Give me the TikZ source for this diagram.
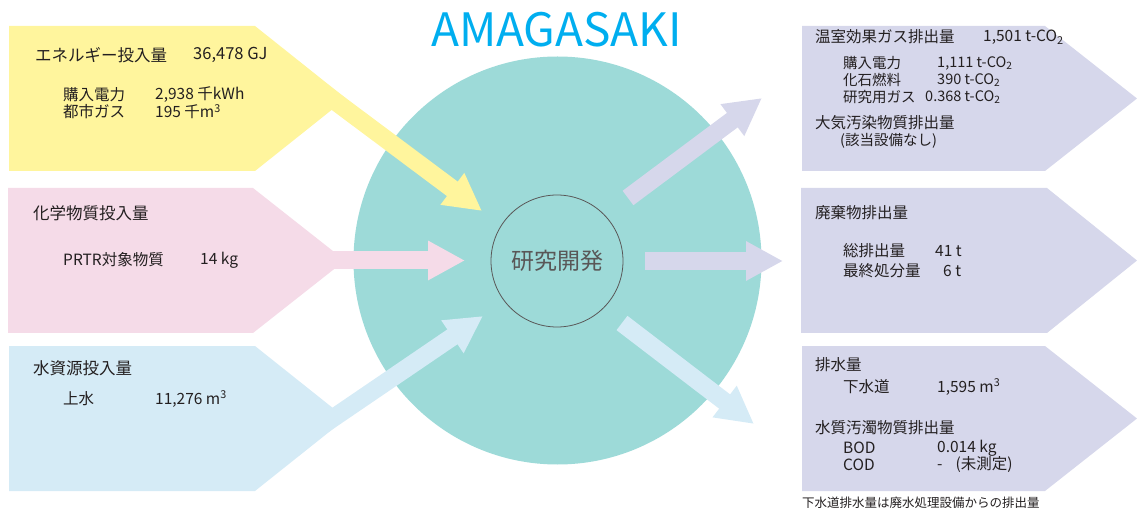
\documentclass[tikz,border=0pt]{standalone}
\usepackage{fontspec}
\setmainfont{Noto Sans CJK JP}
\usetikzlibrary{arrows.meta}

\definecolor{energyc}{HTML}{FFF59D}
\definecolor{chemc}{HTML}{F5DBE8}
\definecolor{waterc}{HTML}{D5EBF6}
\definecolor{outc}{HTML}{D6D7EB}
\definecolor{corec}{HTML}{9DDAD8}
\definecolor{titlec}{HTML}{00AEEF}
\definecolor{inkc}{HTML}{231F20}
\definecolor{greyc}{HTML}{595757}

\tikzset{
  flow/.style={line width=18pt, -{Triangle[length=37pt,width=37pt]}},
  head/.style={anchor=west, inner sep=0pt, text=inkc, font=\fontsize{16.5}{16.5}\selectfont},
  item/.style={anchor=west, inner sep=0pt, text=inkc, font=\fontsize{15.5}{15.5}\selectfont},
  tight/.style={item, font=\fontsize{14.5}{14.5}\selectfont},
}

\begin{document}
\begin{tikzpicture}[x=1pt, y=-1pt]
  \useasboundingbox (0,0) rectangle (1137,510);

  % site and title
  \node[circle, fill=corec, minimum size=408pt, inner sep=0pt] (site) at (557.5,260.5) {};
  \node[text=titlec, font=\fontsize{46}{46}\selectfont] (title) at (556.5,30) {AMAGASAKI};

  % input boxes
  \fill[energyc] (9,26) -- (255,26) -- (346,98.5) -- (255,171) -- (9,171) -- cycle;
  \fill[chemc] (8,188) -- (253,188) -- (345,260.5) -- (253,333) -- (8,333) -- cycle;
  \fill[waterc] (9,346) -- (255,346) -- (346,418.5) -- (255,491) -- (9,491) -- cycle;

  % output boxes
  \fill[outc] (802,26) -- (1045,26) -- (1137,98.5) -- (1045,171) -- (802,171) -- cycle;
  \fill[outc] (801,188) -- (1047,188) -- (1137,260.5) -- (1047,333) -- (801,333) -- cycle;
  \fill[outc] (802,346) -- (1045,346) -- (1137,418.5) -- (1045,491) -- (802,491) -- cycle;

  \coordinate (ein) at (320,90);   \coordinate (etip) at (482,211);
  \coordinate (cin) at (320,260.5); \coordinate (ctip) at (465,260.5);
  \coordinate (win) at (320,427);  \coordinate (wtip) at (483,316);
  \coordinate (gout) at (628,198); \coordinate (gtip) at (762,98);
  \coordinate (sout) at (645,261); \coordinate (stip) at (783,261);
  \coordinate (dout) at (622,323); \coordinate (dtip) at (754,424);

  \draw[flow, energyc] (ein) -- (etip);
  \draw[flow, chemc] (cin) -- (ctip);
  \draw[flow, waterc] (win) -- (wtip);
  \draw[flow, outc] (gout) -- (gtip);
  \draw[flow, outc] (sout) -- (stip);
  \draw[flow, waterc] (dout) -- (dtip);

  \node[circle, draw=greyc, line width=0.8pt, minimum size=132pt, inner sep=0pt,
    text=greyc, font=\fontsize{23}{23}\selectfont] (rd) at (557,261) {研究開発};

  % energy
  \node[head] (en) at (35,55) {エネルギー投入量};
  \node[head] (env) at (193,55) {36,478 GJ};
  \node[item] (pw) at (63,95) {購入電力};
  \node[item] (pwv) at (155,95) {2,938 千kWh};
  \node[item] (gs) at (63,112) {都市ガス};
  \node[item] (gsv) at (155,112) {195 千m\textsuperscript{3}};

  % chemicals
  \node[head] (ch) at (33,213) {化学物質投入量};
  \node[item] (pr) at (63,260) {PRTR対象物質};
  \node[item] (prv) at (200,260) {14 kg};

  % water
  \node[head] (wa) at (33,368) {水資源投入量};
  \node[item] (tap) at (63,399) {上水};
  \node[item] (tapv) at (155,399) {11,276 m\textsuperscript{3}};

  % greenhouse gas and air
  \node[item] (gh) at (815,37) {温室効果ガス排出量};
  \node[item] (ghv) at (983,37) {1,501 t-CO\textsubscript{2}};
  \node[tight] (g1) at (843,63) {購入電力};
  \node[tight] (g1v) at (937,63) {1,111 t-CO\textsubscript{2}};
  \node[tight] (g2) at (843,80) {化石燃料};
  \node[tight] (g2v) at (937,80) {390 t-CO\textsubscript{2}};
  \node[tight] (g3) at (843,97) {研究用ガス};
  \node[tight] (g3v) at (925,97) {0.368 t-CO\textsubscript{2}};
  \node[item] (air) at (815,123) {大気汚染物質排出量};
  \node[tight] (airv) at (840,141) {(該当設備なし)};

  % waste
  \node[item] (ws) at (815,213) {廃棄物排出量};
  \node[item] (w1) at (843,251) {総排出量};
  \node[item] (w1v) at (935,251) {41 t};
  \node[item] (w2) at (843,271) {最終処分量};
  \node[item] (w2v) at (943,271) {6 t};

  % drainage
  \node[item] (dr) at (815,365) {排水量};
  \node[item] (sew) at (843,387) {下水道};
  \node[item] (sewv) at (937,387) {1,595 m\textsuperscript{3}};
  \node[item] (wq) at (815,428) {水質汚濁物質排出量};
  \node[item] (bod) at (843,448) {BOD};
  \node[item] (bodv) at (937,448) {0.014 kg};
  \node[item] (cod) at (843,465) {COD};
  \node[item] (codv) at (937,465) {-\hspace{13pt}(未測定)};
  \node[anchor=west, inner sep=0pt, text=inkc, font=\fontsize{12.5}{12.5}\selectfont]
    (note) at (802,503) {下水道排水量は廃水処理設備からの排出量};
\end{tikzpicture}
\end{document}
